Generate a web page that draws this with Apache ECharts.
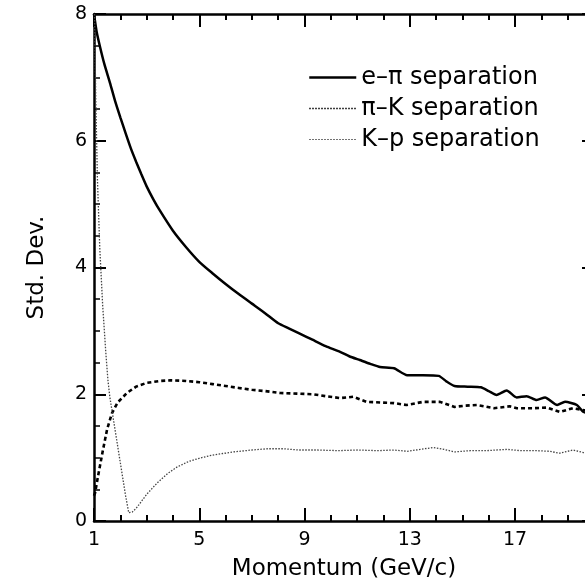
<!DOCTYPE html>
<html>
<head>
<meta charset="utf-8">
<style>
  html, body { margin: 0; padding: 0; background: #fff; }
  #chart { width: 585px; height: 579px; }
</style>
<script src="https://cdn.jsdelivr.net/npm/echarts@6/dist/echarts.min.js"></script>
</head>
<body>
<div id="chart"></div>
<script>
// Momentum (GeV/c) vs separation in standard deviations
const ePiSeparation = [
  [1.0, 8.0], [1.1, 7.72], [1.23, 7.48], [1.4, 7.2], [1.61, 6.91], [1.8, 6.63],
  [2.0, 6.37], [2.2, 6.12], [2.4, 5.88], [2.6, 5.67], [2.8, 5.47], [3.0, 5.28],
  [3.25, 5.08], [3.5, 4.9], [4.0, 4.58], [4.5, 4.32], [5.0, 4.09], [5.5, 3.91],
  [6.0, 3.74], [6.5, 3.58], [7.0, 3.43], [7.5, 3.28], [8.0, 3.12], [8.4, 3.04],
  [8.8, 2.96], [9.3, 2.86], [9.8, 2.76], [10.35, 2.67], [10.7, 2.6], [11.1, 2.54],
  [11.5, 2.48], [11.87, 2.43], [12.4, 2.41], [12.9, 2.30], [13.5, 2.30], [14.1, 2.29],
  [14.4, 2.2], [14.7, 2.13], [15.2, 2.12], [15.7, 2.11], [16.0, 2.05], [16.3, 1.99],
  [16.68, 2.06], [17.06, 1.95], [17.44, 1.97], [17.82, 1.91], [18.14, 1.95], [18.6, 1.83],
  [18.9, 1.88], [19.35, 1.83], [19.6, 1.72], [20.0, 1.69]
];

const piKSeparation = [
  [1.0, 0.4], [1.04, 0.44], [1.15, 0.7], [1.34, 1.12], [1.5, 1.45], [1.68, 1.70],
  [1.9, 1.87], [2.25, 2.02], [2.6, 2.12], [3.0, 2.18], [3.5, 2.21], [3.9, 2.22],
  [4.5, 2.21], [5.0, 2.19], [5.5, 2.16], [6.0, 2.13], [6.5, 2.1], [7.0, 2.07],
  [7.5, 2.05], [8.07, 2.02], [8.7, 2.01], [9.33, 2.0], [9.8, 1.97], [10.35, 1.94],
  [10.85, 1.96], [11.36, 1.88], [11.87, 1.87], [12.4, 1.86], [12.88, 1.83], [13.5, 1.88],
  [14.15, 1.88], [14.7, 1.80], [15.1, 1.82], [15.55, 1.83], [16.2, 1.78], [16.8, 1.81],
  [17.07, 1.78], [17.7, 1.78], [18.2, 1.79], [18.7, 1.72], [19.2, 1.78], [19.6, 1.75],
  [20.0, 1.74]
];

const kPSeparation = [
  [1.02, 8.0], [1.07, 6.6], [1.13, 5.4], [1.22, 4.3], [1.33, 3.4], [1.45, 2.65],
  [1.53, 2.22], [1.6, 1.96], [1.8, 1.44], [2.0, 0.92], [2.2, 0.4], [2.32, 0.13],
  [2.45, 0.14], [2.6, 0.2], [2.75, 0.28], [3.0, 0.42], [3.4, 0.6], [3.8, 0.75],
  [4.15, 0.85], [4.6, 0.94], [5.0, 0.99], [5.5, 1.04], [6.3, 1.09], [7.0, 1.12],
  [7.6, 1.14], [8.2, 1.14], [8.8, 1.12], [9.5, 1.12], [10.3, 1.11], [11.0, 1.12],
  [11.8, 1.11], [12.4, 1.12], [12.9, 1.10], [13.4, 1.13], [13.9, 1.16], [14.3, 1.13],
  [14.7, 1.09], [15.3, 1.11], [15.9, 1.11], [16.3, 1.12], [16.7, 1.13], [17.2, 1.11],
  [17.8, 1.11], [18.3, 1.1], [18.7, 1.07], [19.2, 1.12], [19.6, 1.08], [20.0, 1.08]
];

const seriesNames = ['e\u2013\u03c0 separation', '\u03c0\u2013K separation', 'K\u2013p separation'];

// Tick positions on the momentum axis
const xMajorTicks = [1, 5, 9, 13, 17];
const xMinorTicks = [2, 3, 4, 6, 7, 8, 10, 11, 12, 14, 15, 16, 18, 19];
const xRange = [1, 20];
const yRange = [0, 8];
const yStep = 2;

const FONT = 'DejaVu Sans';
const INK = '#000';
const NO_MARKER = { color: 'rgba(0,0,0,0)', borderWidth: 0, opacity: 0 };

function xAxisFor(position, ticks, tickLen, withLabels, withLine) {
  return {
    type: 'value',
    position: position,
    min: xRange[0],
    max: xRange[1],
    gridIndex: 0,
    splitLine: { show: false },
    axisLine: { show: withLine, onZero: false, lineStyle: { color: INK, width: 2.5 } },
    axisTick: {
      show: true, inside: true, length: tickLen, customValues: ticks,
      lineStyle: { color: INK, width: 2 }
    },
    axisLabel: withLabels
      ? { show: true, customValues: ticks, color: INK, fontFamily: FONT, fontSize: 19, margin: 10 }
      : { show: false },
    name: withLabels ? 'Momentum (GeV/c)' : '',
    nameLocation: 'middle',
    nameGap: 37,
    nameTextStyle: { color: INK, fontFamily: FONT, fontSize: 23 }
  };
}

function yAxisFor(position, withLabels) {
  return {
    type: 'value',
    position: position,
    min: yRange[0],
    max: yRange[1],
    interval: yStep,
    splitLine: { show: false },
    axisLine: { show: true, onZero: false, lineStyle: { color: INK, width: 2.5 } },
    axisTick: { show: true, inside: true, length: 12, lineStyle: { color: INK, width: 2 } },
    minorTick: { show: true, splitNumber: 4, length: 6, lineStyle: { color: INK, width: 1.5 } },
    minorSplitLine: { show: false },
    axisLabel: withLabels
      ? { show: true, color: INK, fontFamily: FONT, fontSize: 19, margin: 7 }
      : { show: false },
    name: withLabels ? 'Std. Dev.' : '',
    nameLocation: 'middle',
    nameRotate: 90,
    nameGap: 45,
    nameTextStyle: { color: INK, fontFamily: FONT, fontSize: 23 }
  };
}

const chart = echarts.init(document.getElementById('chart'), null, { renderer: 'canvas' });

chart.setOption({
  animation: false,
  backgroundColor: '#fff',
  grid: {
    left: 94, top: 14, bottom: 58, right: -9,
    containLabel: false, outerBoundsMode: 'none'
  },
  legend: {
    orient: 'vertical',
    left: 303,
    top: 60,
    padding: 5,
    itemWidth: 47,
    itemHeight: 14,
    itemGap: 6,
    selectedMode: false,
    textStyle: { color: INK, fontFamily: FONT, fontSize: 24, lineHeight: 25 },
    data: [
      { name: seriesNames[0], itemStyle: NO_MARKER, lineStyle: { color: INK, width: 2.5, type: 'solid' } },
      { name: seriesNames[1], itemStyle: NO_MARKER, lineStyle: { color: INK, width: 1.5, type: [1.5, 1.5] } },
      { name: seriesNames[2], itemStyle: NO_MARKER, lineStyle: { color: '#444', width: 1, type: [1.5, 1.5] } }
    ]
  },
  xAxis: [
    xAxisFor('bottom', xMajorTicks, 13, true, true),
    xAxisFor('bottom', xMinorTicks, 6, false, false),
    xAxisFor('top', xMajorTicks, 13, false, true),
    xAxisFor('top', xMinorTicks, 6, false, false)
  ],
  yAxis: [
    yAxisFor('left', true),
    yAxisFor('right', false)
  ],
  series: [
    {
      name: seriesNames[0], type: 'line', data: ePiSeparation,
      xAxisIndex: 0, yAxisIndex: 0, showSymbol: false, symbol: 'none', smooth: 0.2,
      lineStyle: { color: INK, width: 2.5, type: 'solid' }, itemStyle: { color: INK }
    },
    {
      name: seriesNames[1], type: 'line', data: piKSeparation,
      xAxisIndex: 0, yAxisIndex: 0, showSymbol: false, symbol: 'none',
      lineStyle: { color: INK, width: 2.6, type: [4, 3] }, itemStyle: { color: INK }
    },
    {
      name: seriesNames[2], type: 'line', data: kPSeparation,
      xAxisIndex: 0, yAxisIndex: 0, showSymbol: false, symbol: 'none',
      lineStyle: { color: '#444', width: 1.3, type: [1.5, 1.5] }, itemStyle: { color: '#444' }
    }
  ]
});
</script>
</body>
</html>
